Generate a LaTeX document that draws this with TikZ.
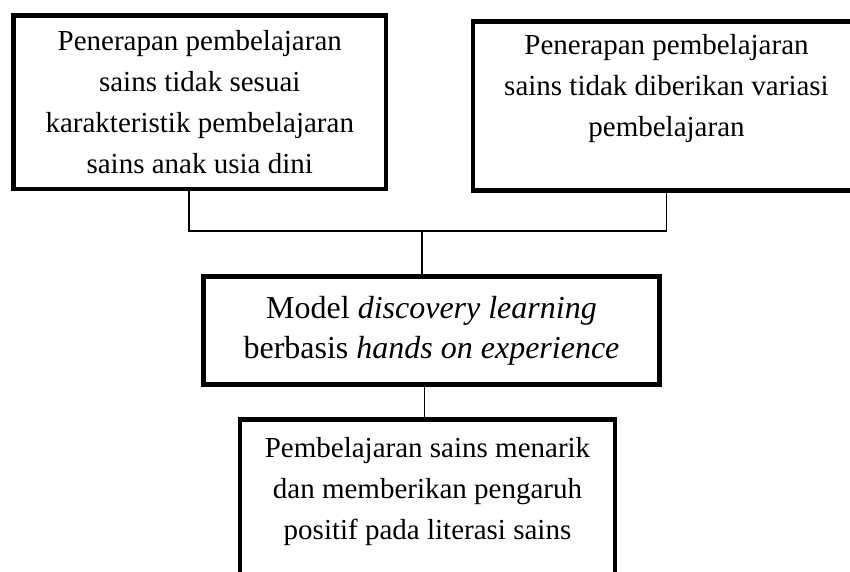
\documentclass[tikz,border=0pt]{standalone}
\usepackage{fontspec}
\setmainfont{Liberation Serif}
\usepackage{tikz}
\usetikzlibrary{positioning}

\begin{document}
\begin{tikzpicture}[
    x=1pt, y=-1pt,
    box/.style={rectangle, draw=black, line width=4.5pt, align=center, inner sep=0pt, font=\fontsize{29}{41}\selectfont},
    mainbox/.style={box, font=\fontsize{32}{40}\selectfont},
    link/.style={draw=black, line width=1.6pt}
]
\useasboundingbox (0,0) rectangle (850,571);
\clip (0,0) rectangle (850,571);

% Causes
\node (causeA) [box, minimum width=372.5pt, minimum height=173.5pt] at (199.75,102.25)
    {Penerapan pembelajaran\\sains tidak sesuai\\karakteristik pembelajaran\\sains anak usia dini};
\node (causeB) [box, minimum width=387pt, minimum height=169pt] at (666.5,106)
    {Penerapan pembelajaran\\sains tidak diberikan variasi\\pembelajaran\\\mbox{}};

% Solution
\node (model) [mainbox, minimum width=456pt, minimum height=108pt] at (431.5,330.5)
    {Model \textit{discovery learning}\\berbasis \textit{hands on experience}};

% Outcome
\node (result) [box, minimum width=375pt, minimum height=178pt] at (427.5,508.5)
    {Pembelajaran sains menarik\\dan memberikan pengaruh\\positif pada literasi sains\\\mbox{}};

% Connectors
\coordinate (join) at (422,231);
\draw[link] ([xshift=-10.75pt]causeA.south) |- (join) -| (causeB.south);
\draw[link] (join) -- (join |- model.north);
\draw[link] ([xshift=-7pt]model.south) -- ([xshift=-7pt]model.south |- result.north);

\end{tikzpicture}
\end{document}
